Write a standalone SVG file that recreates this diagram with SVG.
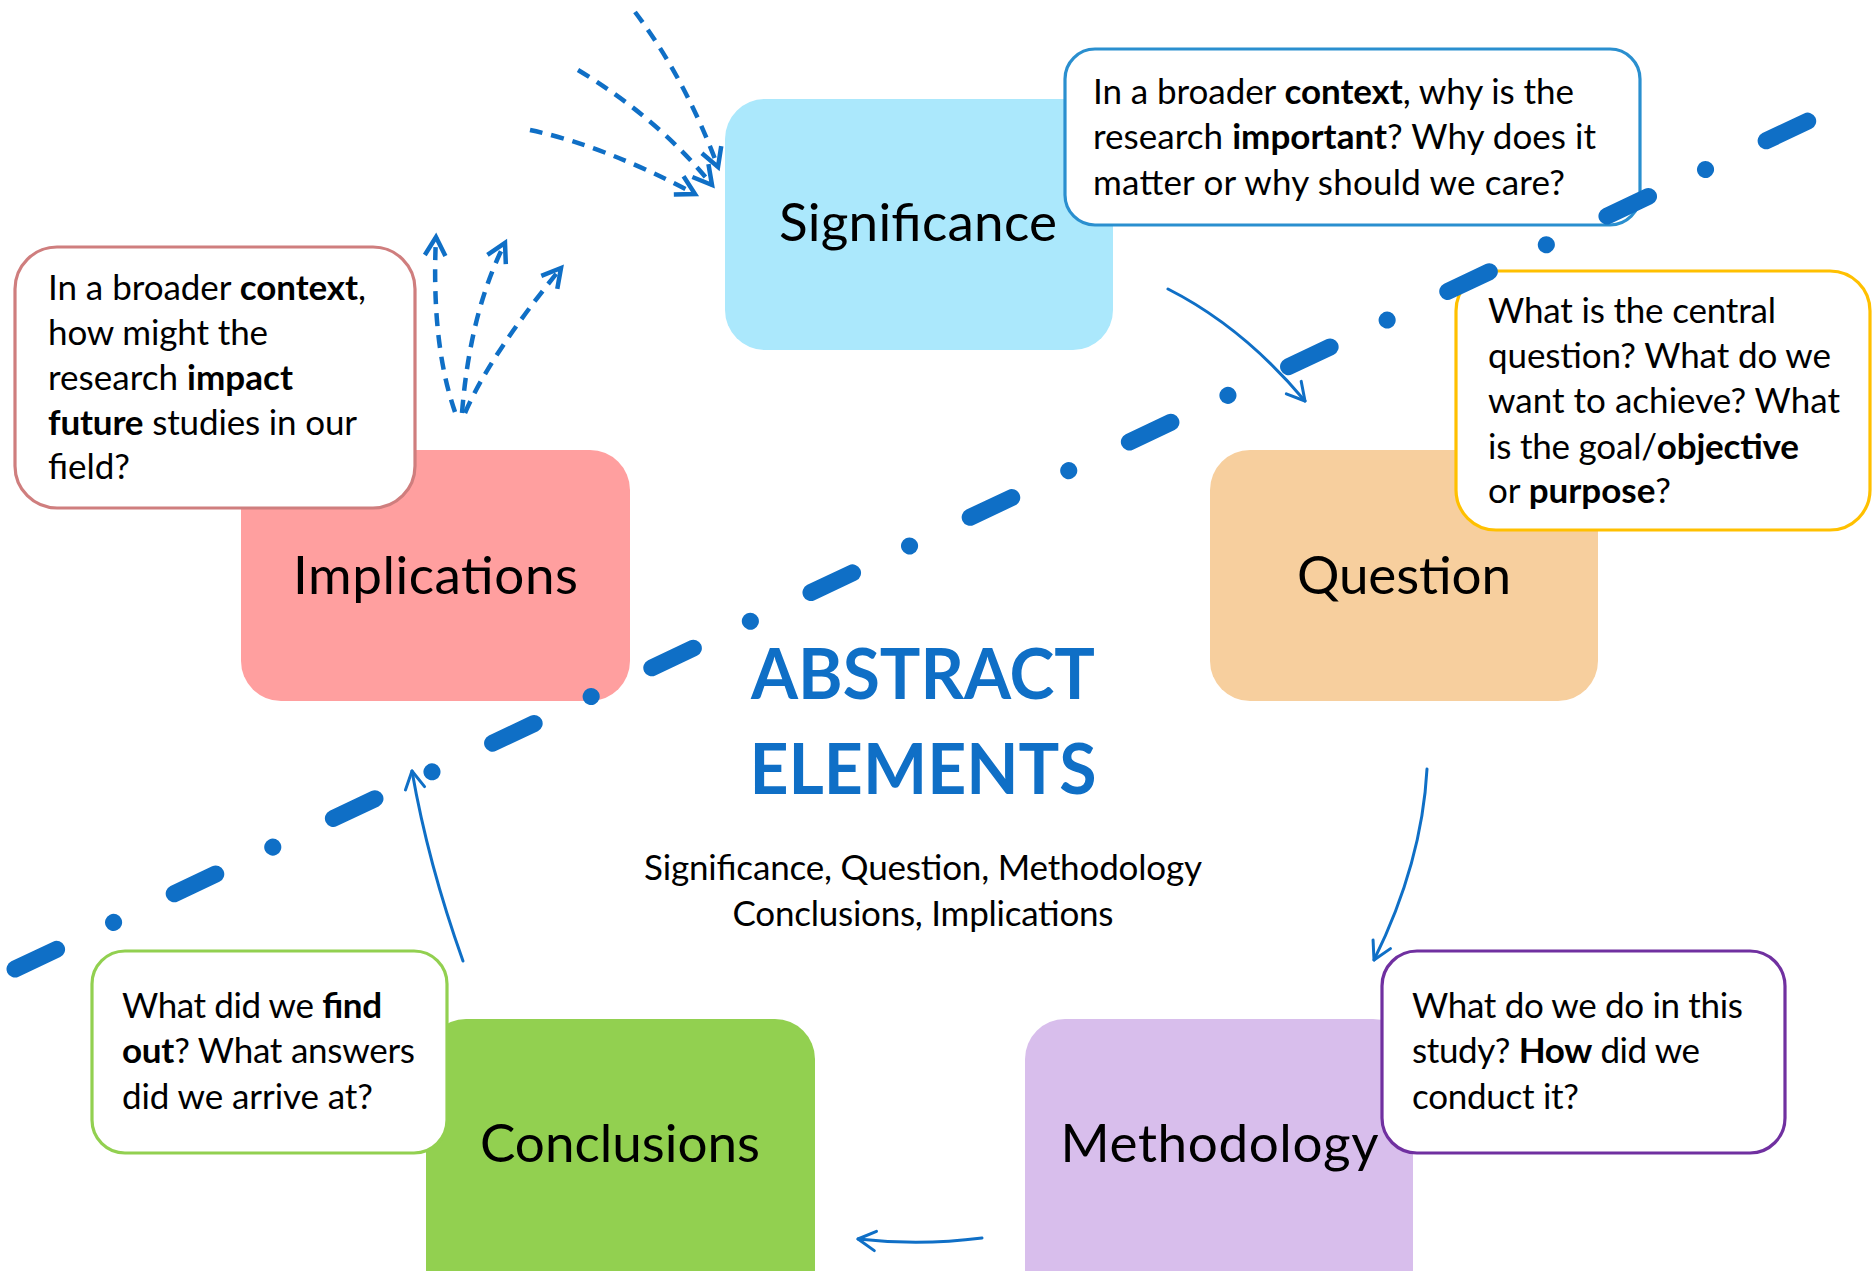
<svg xmlns="http://www.w3.org/2000/svg" width="1873" height="1271" viewBox="0 0 1873 1271">
<defs>
<style>
.t{font-family:Lato,"Liberation Sans",sans-serif;fill:#000}
.c{font-size:35px}
.lbl{font-size:53px;text-anchor:middle}
.b{font-weight:bold}
.ttl{font-size:70px;font-weight:bold;text-anchor:middle;fill:#0F6FC6}
.box{stroke:none}
.call{fill:#fff;stroke-width:3.2}
.thin{fill:none;stroke:#0F6FC6;stroke-width:3;stroke-linecap:round;marker-end:url(#ah)}
.dash{fill:none;stroke:#0F6FC6;stroke-width:4.5;stroke-dasharray:13 9;marker-end:url(#ahd)}
</style>
<marker id="ah" markerUnits="userSpaceOnUse" markerWidth="40" markerHeight="40" refX="0" refY="0" orient="auto" overflow="visible">
<path d="M-17.5,-9.7 L0,0 L-17.5,9.7" fill="none" stroke="#0F6FC6" stroke-width="3" stroke-linecap="round" stroke-linejoin="round"/>
</marker>
<marker id="ahd" markerUnits="userSpaceOnUse" markerWidth="40" markerHeight="40" refX="0" refY="0" orient="auto" overflow="visible">
<path d="M-18.5,-10.3 L0,0 L-18.5,10.3" fill="none" stroke="#0F6FC6" stroke-width="4.5" stroke-linecap="butt" stroke-linejoin="miter"/>
</marker>
</defs>
<rect width="1873" height="1271" fill="#fff"/>

<g id="significance">
<rect class="box" x="725" y="99" width="388" height="251" rx="40" fill="#ABE8FC"/>
<text class="t lbl" x="918" y="241" textLength="278">Significance</text>
</g>
<g id="implications">
<rect class="box" x="241" y="450" width="389" height="251" rx="40" fill="#FF9F9F"/>
<text class="t lbl" x="435.5" y="594" textLength="285">Implications</text>
</g>
<g id="question">
<rect class="box" x="1210" y="450" width="388" height="251" rx="40" fill="#F7CF9E"/>
<text class="t lbl" x="1404" y="594" textLength="214">Question</text>
</g>
<g id="conclusions">
<rect class="box" x="426" y="1019" width="389" height="290" rx="40" fill="#92D050"/>
<text class="t lbl" x="620" y="1162" textLength="280">Conclusions</text>
</g>
<g id="methodology">
<rect class="box" x="1025" y="1019" width="388" height="290" rx="40" fill="#D8BEEC"/>
<text class="t lbl" x="1219.5" y="1162" textLength="318">Methodology</text>
</g>

<g id="significance-note">
<rect class="call" x="1065" y="49" width="575" height="176" rx="30" stroke="#2A8FCF"/>
<text class="t c" x="1093" y="104" textLength="481">In a broader <tspan class="b">context</tspan>, why is the</text>
<text class="t c" x="1093" y="149" textLength="503">research <tspan class="b">important</tspan>? Why does it</text>
<text class="t c" x="1093" y="195" textLength="472">matter or why should we care?</text>
</g>
<g id="question-note">
<rect class="call" x="1456" y="271" width="414" height="259" rx="40" stroke="#FFC000"/>
<text class="t c" x="1488" y="323" textLength="288">What is the central</text>
<text class="t c" x="1488" y="368" textLength="343">question? What do we</text>
<text class="t c" x="1488" y="413" textLength="352">want to achieve? What</text>
<text class="t c" x="1488" y="459" textLength="311">is the goal/<tspan class="b">objective</tspan></text>
<text class="t c" x="1488" y="503" textLength="183">or <tspan class="b">purpose</tspan>?</text>
</g>
<g id="implications-note">
<rect class="call" x="15" y="247" width="400" height="261" rx="42" stroke="#CF7E7E"/>
<text class="t c" x="48" y="300" textLength="318">In a broader <tspan class="b">context</tspan>,</text>
<text class="t c" x="48" y="345" textLength="220">how might the</text>
<text class="t c" x="48" y="390" textLength="245">research <tspan class="b">impact</tspan></text>
<text class="t c" x="48" y="435" textLength="309"><tspan class="b">future</tspan> studies in our</text>
<text class="t c" x="48" y="479" textLength="82">field?</text>
</g>
<g id="conclusions-note">
<rect class="call" x="92" y="951" width="355" height="202" rx="33" stroke="#92D050"/>
<text class="t c" x="122" y="1018" textLength="260">What did we <tspan class="b">find</tspan></text>
<text class="t c" x="122" y="1063" textLength="293"><tspan class="b">out</tspan>? What answers</text>
<text class="t c" x="122" y="1109" textLength="251">did we arrive at?</text>
</g>
<g id="methodology-note">
<rect class="call" x="1382" y="951" width="403" height="202" rx="35" stroke="#7030A0"/>
<text class="t c" x="1412" y="1018" textLength="331">What do we do in this</text>
<text class="t c" x="1412" y="1063" textLength="288">study? <tspan class="b">How</tspan> did we</text>
<text class="t c" x="1412" y="1109" textLength="167">conduct it?</text>
</g>

<g id="title">
<text class="t ttl" x="923" y="699" textLength="344" lengthAdjust="spacingAndGlyphs">ABSTRACT</text>
<text class="t ttl" x="923" y="794" textLength="347" lengthAdjust="spacingAndGlyphs">ELEMENTS</text>
<text class="t c" x="923" y="880" text-anchor="middle" textLength="558">Significance, Question, Methodology</text>
<text class="t c" x="923" y="926" text-anchor="middle" textLength="381">Conclusions, Implications</text>
</g>

<g id="connectors">
<path class="thin" d="M1168,289 Q1243,327 1305,401"/>
<path class="thin" d="M1427,769 Q1422,863 1374,960"/>
<path class="thin" d="M982,1238 Q920,1246 858,1239"/>
<path class="thin" d="M463,961 Q428,863 412,771"/>
<path class="dash" d="M635,12 Q685,78 718,167"/>
<path class="dash" d="M578,70 Q659,119 712,185"/>
<path class="dash" d="M530,130 Q605,146 695,194"/>
<path class="dash" d="M455,412 Q431,343 436,237"/>
<path class="dash" d="M462,413 Q470,312 505,243"/>
<path class="dash" d="M465,413 Q490,355 561,268"/>
<line x1="15" y1="969" x2="1808" y2="121" fill="none" stroke="#0F6FC6" stroke-width="17" stroke-linecap="round" stroke-dasharray="46 63 0.1 67"/>
</g>
</svg>
